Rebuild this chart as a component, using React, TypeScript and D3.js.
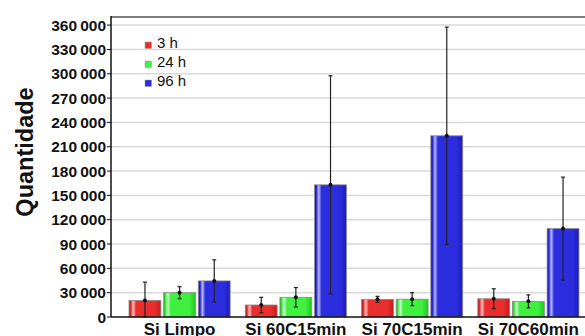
import React from 'react'
import { scaleBand, scaleLinear } from 'd3'

const categories = ['Si Limpo', 'Si 60C15min', 'Si 70C15min', 'Si 70C60min']
const series = ['3 h', '24 h', '96 h']
const values3h = [20500, 14800, 21800, 22500]
const values24h = [30000, 24300, 22000, 19300]
const values96h = [44500, 163000, 223500, 109000]
const err3h = [22500, 9500, 3700, 12300]
const err24h = [7400, 12000, 8000, 8000]
const err96h = [26000, 134500, 134000, 63500]
const yTicks = [0, 30000, 60000, 90000, 120000, 150000, 180000, 210000, 240000, 270000, 300000, 330000, 360000]

const colors = [
  { dark: '#a80f0f', light: '#ffc4c4', base: '#ea2e2e', edge: '#c41c1c' },
  { dark: '#15a815', light: '#c8ffc8', base: '#3ff03f', edge: '#22c822' },
  { dark: '#0d0d9a', light: '#b8b8ff', base: '#2d2de0', edge: '#1c1cb8' },
]

const W = 585
const H = 336
const left = 111
const top = 17
const bottom = 317

function fmt(v: number) {
  const s = String(v)
  if (v < 1000) return s
  return s.slice(0, s.length - 3) + '\u2009' + s.slice(s.length - 3)
}

export default function App() {
  const data = [values3h, values24h, values96h]
  const errs = [err3h, err24h, err96h]

  const x = scaleBand().domain(categories).range([left, 597]).paddingInner(0.13).paddingOuter(0.155)
  const xs = scaleBand().domain(series).range([0, x.bandwidth()]).paddingInner(0.08)
  const y = scaleLinear().domain([0, 370000]).range([bottom, top])

  return (
    <svg width={W} height={H} style={{ position: 'absolute', left: 0, top: 0, background: '#fff' }}
      fontFamily="'Liberation Sans', Arial, sans-serif">
      <defs>
        {colors.map((c, i) => (
          <linearGradient key={i} id={'g' + i} x1="0" x2="1" y1="0" y2="0">
            <stop offset="0%" stopColor={c.dark} />
            <stop offset="6%" stopColor={c.base} />
            <stop offset="13%" stopColor={c.light} />
            <stop offset="22%" stopColor={c.base} />
            <stop offset="80%" stopColor={c.base} />
            <stop offset="100%" stopColor={c.edge} />
          </linearGradient>
        ))}
      </defs>

      {/* grid */}
      {yTicks.slice(1).map(t => (
        <line key={t} x1={left} x2={W} y1={y(t)} y2={y(t)} stroke="#d9d9d9" strokeWidth={1.5} />
      ))}
      <line x1={left} x2={W} y1={top} y2={top} stroke="#555" strokeWidth={1.5} />

      {/* bars */}
      {categories.map((cat, ci) => (
        <g key={cat} transform={`translate(${x(cat)},0)`}>
          {series.map((s, si) => {
            const v = data[si][ci]
            const e = errs[si][ci]
            const bx = xs(s) as number
            const bw = xs.bandwidth()
            const cx = bx + bw / 2
            const y0 = y(Math.max(0, v - e))
            const y1 = y(v + e)
            return (
              <g key={s}>
                <rect x={bx} y={y(v)} width={bw} height={bottom - y(v)} fill={`url(#g${si})`}
                  stroke="#8a8a8a" strokeWidth={0.8} />
                <line x1={cx} x2={cx} y1={y1} y2={Math.min(y0, bottom + 2)} stroke="#222" strokeWidth={1.2} />
                <line x1={cx - 2} x2={cx + 2} y1={y1} y2={y1} stroke="#222" strokeWidth={1.2} />
                <line x1={cx - 2} x2={cx + 2} y1={y0} y2={y0} stroke="#222" strokeWidth={1.2} />
                <circle cx={cx} cy={y(v)} r={2} fill="#111" />
              </g>
            )
          })}
        </g>
      ))}

      {/* axes */}
      <line x1={left} x2={left} y1={top - 1} y2={bottom} stroke="#111" strokeWidth={1.5} />
      <line x1={left} x2={W} y1={bottom} y2={bottom} stroke="#111" strokeWidth={1.5} />
      {yTicks.map(t => (
        <g key={t}>
          <line x1={left - 4} x2={left} y1={y(t)} y2={y(t)} stroke="#111" strokeWidth={1} />
          <text x={106} y={y(t)} dy="0.36em" textAnchor="end" fontSize={15.5} fontWeight="bold" fill="#111">
            {fmt(t)}
          </text>
        </g>
      ))}
      {categories.map(cat => (
        <text key={cat} x={(x(cat) as number) + x.bandwidth() / 2} y={335} textAnchor="middle"
          fontSize={17} fontWeight="bold" fill="#111">{cat}</text>
      ))}
      <text transform="translate(33,152) rotate(-90)" textAnchor="middle" fontSize={23.5} fontWeight="bold" fill="#111">
        Quantidade
      </text>

      {/* legend */}
      {series.map((s, i) => (
        <g key={s} transform={`translate(145,${42 + i * 19})`}>
          <rect x={0} y={0} width={6.5} height={6.5} fill={colors[i].base} stroke="#999" strokeWidth={0.5} />
          <text x={12} y={6} fontSize={15} fill="#111">{s}</text>
        </g>
      ))}
    </svg>
  )
}
